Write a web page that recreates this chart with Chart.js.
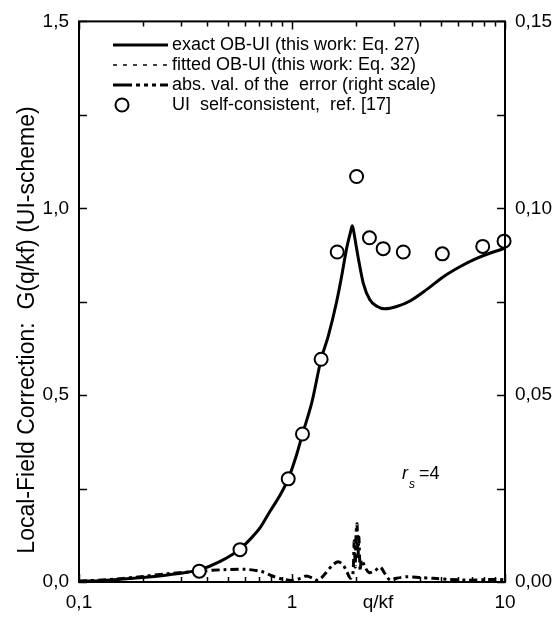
<!DOCTYPE html>
<html>
<head>
<meta charset="utf-8">
<script src="https://cdn.jsdelivr.net/npm/chart.js@4.4.1/dist/chart.umd.min.js"></script>
<style>
  html, body { margin: 0; padding: 0; background: #fff; }
  #wrap { width: 560px; height: 618px; }
</style>
</head>
<body>
<div id="wrap"><canvas id="chart" width="560" height="618"></canvas></div>
<script>
// exact OB-UI curve (Eq. 27)
const exactQ = [0.1, 0.125, 0.18, 0.26, 0.37, 0.46, 0.57, 0.64, 0.71, 0.79, 0.87, 0.96, 1.05, 1.12, 1.24, 1.37, 1.48, 1.62, 1.70, 1.81, 1.88, 1.92, 1.96, 2.0, 2.05, 2.16, 2.32, 2.5, 2.73, 3.1, 3.58, 4.3, 5.14, 6.2, 7.36, 8.6, 10];
const exactG = [0.002, 0.0035, 0.01, 0.019, 0.033, 0.055, 0.088, 0.116, 0.146, 0.19, 0.228, 0.276, 0.34, 0.396, 0.481, 0.596, 0.658, 0.75, 0.81, 0.896, 0.935, 0.953, 0.93, 0.90, 0.865, 0.80, 0.755, 0.738, 0.731, 0.737, 0.752, 0.783, 0.817, 0.845, 0.866, 0.881, 0.893];
// fitted OB-UI (Eq. 32) lies on top of the exact curve
const fittedQ = exactQ;
const fittedG = exactG;
// abs. value of the error (right scale)
const errQ = [0.1, 0.15, 0.2, 0.26, 0.37, 0.48, 0.6, 0.72, 0.81, 0.9, 1.0, 1.1, 1.17, 1.25, 1.33, 1.42, 1.55, 1.65, 1.74, 1.81, 1.88, 1.93, 1.96, 1.98, 2.0, 2.02, 2.04, 2.06, 2.09, 2.12, 2.2, 2.3, 2.45, 2.59, 2.75, 2.89, 3.1, 3.46, 4.0, 4.6, 5.5, 6.6, 8.0, 9.1, 10];
const errV = [0.0002, 0.0008, 0.0015, 0.0022, 0.0029, 0.0033, 0.0034, 0.0028, 0.0016, 0.0008, 0.0004, 0.001, 0.0016, 0.001, 0.0004, 0.002, 0.0045, 0.0054, 0.0045, 0.0027, 0.001, 0.002, 0.011, 0.004, 0.013, 0.0155, 0.006, 0.012, 0.003, 0.006, 0.004, 0.0025, 0.003, 0.004, 0.002, 0.0005, 0.001, 0.0014, 0.0012, 0.001, 0.0007, 0.0005, 0.0006, 0.0007, 0.0006];
// UI self-consistent, ref. [17]
const uiQ = [0.367, 0.57, 0.96, 1.12, 1.37, 1.63, 2.01, 2.31, 2.68, 3.33, 5.08, 7.86, 9.9];
const uiG = [0.029, 0.0865, 0.276, 0.396, 0.596, 0.883, 1.085, 0.921, 0.892, 0.883, 0.878, 0.898, 0.912];

const xTickValues = [0.1, 1, 10];
const xTickLabels = ['0,1', '1', '10'];
const yTickValues = [0, 0.5, 1.0, 1.5];
const yTickLabels = ['0,0', '0,5', '1,0', '1,5'];
const y2TickValues = [0, 0.05, 0.10, 0.15];
const y2TickLabels = ['0,00', '0,05', '0,10', '0,15'];
const legendLabels = ['exact OB-UI (this work: Eq. 27)', 'fitted OB-UI (this work: Eq. 32)', 'abs. val. of the  error (right scale)', 'UI  self-consistent,  ref. [17]'];

const FONT = '"Liberation Sans", Arial, Helvetica, sans-serif';
const errDash = [8, 4, 3, 4];

function pts(xs, ys) { return xs.map((x, i) => ({ x: x, y: ys[i] })); }

const frame = {
  id: 'frame',
  afterDraw(chart) {
    const ctx = chart.ctx;
    const a = chart.chartArea;
    const sx = chart.scales.x, sy = chart.scales.y, sy2 = chart.scales.y2;
    ctx.save();
    ctx.strokeStyle = '#000';
    ctx.lineWidth = 2;
    ctx.strokeRect(a.left, a.top, a.right - a.left, a.bottom - a.top);
    ctx.lineWidth = 1.5;
    ctx.beginPath();
    for (let d = 0.1; d < 10; d *= 10) {
      for (let m = 1; m <= 10; m++) {
        const v = d * m;
        const px = Math.round(sx.getPixelForValue(v)) + 0.5;
        const len = (m === 1 || m === 10) ? 8 : 5;
        ctx.moveTo(px, a.bottom); ctx.lineTo(px, a.bottom - len);
        ctx.moveTo(px, a.top); ctx.lineTo(px, a.top + len);
      }
    }
    for (let i = 0; i <= 6; i++) {
      const py = Math.round(sy.getPixelForValue(i * 0.25)) + 0.5;
      ctx.moveTo(a.left, py); ctx.lineTo(a.left + 8, py);
      const py2 = Math.round(sy2.getPixelForValue(i * 0.025)) + 0.5;
      ctx.moveTo(a.right, py2); ctx.lineTo(a.right - 8, py2);
    }
    ctx.stroke();

    // legend
    const ds = chart.data.datasets;
    const rows = [45, 65, 85, 105];
    ctx.font = '18px ' + FONT;
    ctx.fillStyle = '#000';
    ctx.textBaseline = 'middle';
    ctx.textAlign = 'left';
    for (let i = 0; i < 4; i++) {
      const y = rows[i];
      ctx.save();
      if (i < 3) {
        ctx.lineWidth = ds[i].borderWidth;
        ctx.setLineDash(i === 2 ? [19, 4, 4, 4, 4, 4, 4, 4] : (ds[i].borderDash || []));
        ctx.beginPath();
        ctx.moveTo(113, y); ctx.lineTo(168, y);
        ctx.stroke();
      } else {
        ctx.lineWidth = 2;
        ctx.beginPath();
        ctx.arc(122, y, 6.5, 0, Math.PI * 2);
        ctx.fillStyle = '#fff';
        ctx.fill();
        ctx.stroke();
      }
      ctx.restore();
      ctx.fillText(legendLabels[i], 172, y);
    }

    // axis titles and annotation
    ctx.font = '19px ' + FONT;
    ctx.textAlign = 'center';
    ctx.fillText('q/kf', 378, 603);
    ctx.save();
    ctx.translate(28, 330);
    ctx.rotate(-Math.PI / 2);
    ctx.font = '23px ' + FONT;
    ctx.fillText('Local-Field Correction:  G(q/kf) (UI-scheme)', 0, 0);
    ctx.restore();

    ctx.textAlign = 'left';
    ctx.textBaseline = 'alphabetic';
    ctx.font = 'italic 18px ' + FONT;
    ctx.fillText('r', 402, 479);
    ctx.font = 'italic 12px ' + FONT;
    ctx.fillText('s', 409, 488);
    ctx.font = '18px ' + FONT;
    ctx.fillText('=4', 419, 479);
    ctx.restore();
  }
};

const tickFont = { family: FONT, size: 19 };
const noGrid = { display: false, drawTicks: false };

new Chart(document.getElementById('chart'), {
  type: 'line',
  data: {
    datasets: [
      { label: legendLabels[0], data: pts(exactQ, exactG), yAxisID: 'y', borderColor: '#000', borderWidth: 3, pointRadius: 0, cubicInterpolationMode: 'monotone', order: 2 },
      { label: legendLabels[1], data: pts(fittedQ, fittedG), yAxisID: 'y', borderColor: '#000', borderWidth: 1.5, borderDash: [4, 6], pointRadius: 0, cubicInterpolationMode: 'monotone', order: 3 },
      { label: legendLabels[2], data: pts(errQ, errV), yAxisID: 'y2', borderColor: '#000', borderWidth: 3, borderDash: errDash, pointRadius: 0, tension: 0.3, order: 4 },
      { label: legendLabels[3], data: pts(uiQ, uiG), yAxisID: 'y', showLine: false, pointRadius: 6.5, pointBorderWidth: 2, pointBackgroundColor: '#fff', pointBorderColor: '#000', order: 1 }
    ]
  },
  options: {
    responsive: false,
    animation: false,
    clip: false,
    layout: { padding: { top: 15, left: 0, right: 0, bottom: 0 } },
    plugins: { legend: { display: false }, tooltip: { enabled: false } },
    scales: {
      x: {
        type: 'logarithmic', min: 0.1, max: 10,
        afterBuildTicks: s => { s.ticks = xTickValues.map(v => ({ value: v })); },
        afterFit: s => { s.height = 36; },
        grid: noGrid, border: { display: false },
        ticks: { autoSkip: false, maxRotation: 0, padding: 9, color: '#000', font: tickFont, callback: (v, i) => xTickLabels[i] }
      },
      y: {
        position: 'left', min: 0, max: 1.5,
        afterBuildTicks: s => { s.ticks = yTickValues.map(v => ({ value: v })); },
        afterFit: s => { s.width = 79; },
        grid: noGrid, border: { display: false },
        ticks: { padding: 10, color: '#000', font: tickFont, callback: (v, i) => yTickLabels[i] }
      },
      y2: {
        position: 'right', min: 0, max: 0.15,
        afterBuildTicks: s => { s.ticks = y2TickValues.map(v => ({ value: v })); },
        afterFit: s => { s.width = 55; },
        grid: noGrid, border: { display: false },
        ticks: { padding: 10, color: '#000', font: tickFont, callback: (v, i) => y2TickLabels[i] }
      }
    }
  },
  plugins: [frame]
});
</script>
</body>
</html>
